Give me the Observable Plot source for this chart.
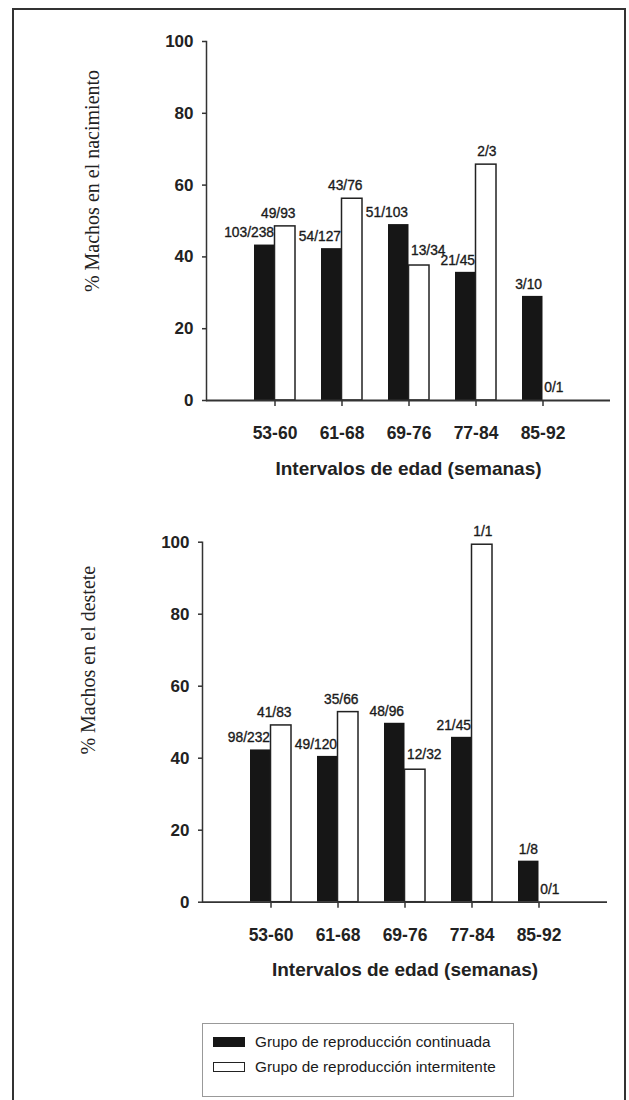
<!DOCTYPE html>
<html>
<head>
<meta charset="utf-8">
<script src="https://cdn.jsdelivr.net/npm/d3@7"></script>
<script src="https://cdn.jsdelivr.net/npm/@observablehq/plot@0.6"></script>
<style>
  html, body { margin: 0; padding: 0; background: #fff; }
  #page { position: relative; width: 629px; height: 1100px; overflow: hidden; background: #fff; font-family: "Liberation Sans", Arial, sans-serif; color: #222; }
  #frame { position: absolute; left: 12px; top: 8px; width: 614px; height: 1200px; border: 2px solid #333; box-sizing: border-box; }
  .chart { position: absolute; left: 0; }
  .chart svg { overflow: visible; }
  .chart g[aria-label="x-axis tick label"] text { font-weight: bold; font-size: 17.5px; }
  .chart g[aria-label="y-axis tick label"] text { font-weight: bold; font-size: 17px; }
  #legend { position: absolute; left: 202px; top: 1023px; width: 312px; height: 74px; border: 1px solid #999; box-sizing: border-box; }
  .lrow { position: absolute; left: 10px; height: 16px; display: flex; align-items: center; font-size: 15.3px; color: #1a1a1a; white-space: nowrap; }
  .sw { width: 32px; height: 10px; box-sizing: border-box; margin-right: 10px; }
</style>
</head>
<body>
<div id="page">
  <div id="frame"></div>
  <div id="top" class="chart" style="top:0px"></div>
  <div id="bottom" class="chart" style="top:500px"></div>
  <div id="legend">
    <div class="lrow" style="top:10px"><div class="sw" style="background:#161616"></div>Grupo de reproducción continuada</div>
    <div class="lrow" style="top:35px"><div class="sw" style="background:#fff;border:1.5px solid #222"></div>Grupo de reproducción intermitente</div>
  </div>
</div>
<script>
const categories = ["53-60", "61-68", "69-76", "77-84", "85-92"];
const yTicks = [0, 20, 40, 60, 80, 100];
const xTitle = "Intervalos de edad (semanas)";

const birthTitle = "% Machos en el nacimiento";
const birthContinuous = [43.3, 42.3, 49.0, 35.7, 29.0];
const birthIntermittent = [48.5, 56.2, 37.6, 65.7, 0];
const birthContinuousLabels = ["103/238", "54/127", "51/103", "21/45", "3/10"];
const birthIntermittentLabels = ["49/93", "43/76", "13/34", "2/3", "0/1"];

const weanTitle = "% Machos en el destete";
const weanContinuous = [42.3, 40.5, 49.7, 45.8, 11.4];
const weanIntermittent = [49.1, 52.8, 36.8, 99.3, 0];
const weanContinuousLabels = ["98/232", "49/120", "48/96", "21/45", "1/8"];
const weanIntermittentLabels = ["41/83", "35/66", "12/32", "1/1", "0/1"];

function rows(values, labels, other) {
  return categories.map((c, i) => ({cat: c, value: values[i], label: labels[i], other: other ? other[i] : null}));
}

function chart(cont, inter, contLabels, interLabels, title, m, titleDy) {
  const C = rows(cont, contLabels);
  const I = rows(inter, interLabels, cont);
  // white-bar labels sit flush with the bar's right edge, unless a long label
  // would run into a taller black bar; then they start at the bar's left edge
  const clash = d => d.value < d.other && d.label.length > 3;
  const labelStyle = {fontSize: 13.8, fill: "#1a1a1a", stroke: "#1a1a1a", strokeWidth: 0.35};
  return Plot.plot({
    width: 629,
    height: 490,
    marginTop: m.top,
    marginBottom: m.bottom,
    marginLeft: m.left,
    marginRight: m.right,
    style: {fontFamily: "'Liberation Sans', Arial, sans-serif", color: "#222", background: "transparent", overflow: "visible"},
    x: {domain: categories, paddingInner: 0.39, paddingOuter: 0.695},
    y: {domain: [0, 100]},
    marks: [
      Plot.barY(C, {x: "cat", y: "value", fill: "#161616", insetRight: 20.5, insetLeft: 0}),
      Plot.barY(I.filter(d => d.value > 0), {x: "cat", y: "value", fill: "#fff", stroke: "#222", strokeWidth: 1.5, insetLeft: 20.5, insetRight: 0}),
      Plot.frame({anchor: "left", stroke: "#333", strokeWidth: 1.5}),
      Plot.ruleY([0], {stroke: "#333", strokeWidth: 1.8}),
      Plot.axisX({tickSize: 6, tickPadding: 20, label: null, stroke: "#333", strokeWidth: 1.5, fill: "#222"}),
      Plot.axisY({ticks: yTicks, tickSize: 4, tickPadding: 9, label: null, stroke: "#333", strokeWidth: 1.5, fill: "#222"}),
      Plot.text(C, {x: "cat", y: "value", text: "label", textAnchor: "end", dx: -1, dy: -12, ...labelStyle}),
      Plot.text(I.filter(d => !clash(d)), {x: "cat", y: "value", text: "label", textAnchor: "end", dx: 20.5, dy: -13, ...labelStyle}),
      Plot.text(I.filter(clash), {x: "cat", y: "value", text: "label", textAnchor: "start", dx: 2, dy: -15, ...labelStyle}),
      Plot.text([xTitle], {frameAnchor: "bottom", lineAnchor: "middle", textAnchor: "middle", dy: 68, fontSize: 19, fontWeight: "bold", fill: "#222"}),
      Plot.text([title], {frameAnchor: "left", textAnchor: "middle", lineAnchor: "middle", rotate: -90, dx: -114, dy: titleDy, fontSize: 20, fontFamily: "'Liberation Serif', 'Times New Roman', serif", fill: "#222"})
    ]
  });
}

document.getElementById("top").append(
  chart(birthContinuous, birthIntermittent, birthContinuousLabels, birthIntermittentLabels, birthTitle,
        {top: 41, bottom: 90, left: 206, right: 19}, -40)
);
document.getElementById("bottom").append(
  chart(weanContinuous, weanIntermittent, weanContinuousLabels, weanIntermittentLabels, weanTitle,
        {top: 41.7, bottom: 88.3, left: 202, right: 22}, -62)
);
</script>
</body>
</html>
